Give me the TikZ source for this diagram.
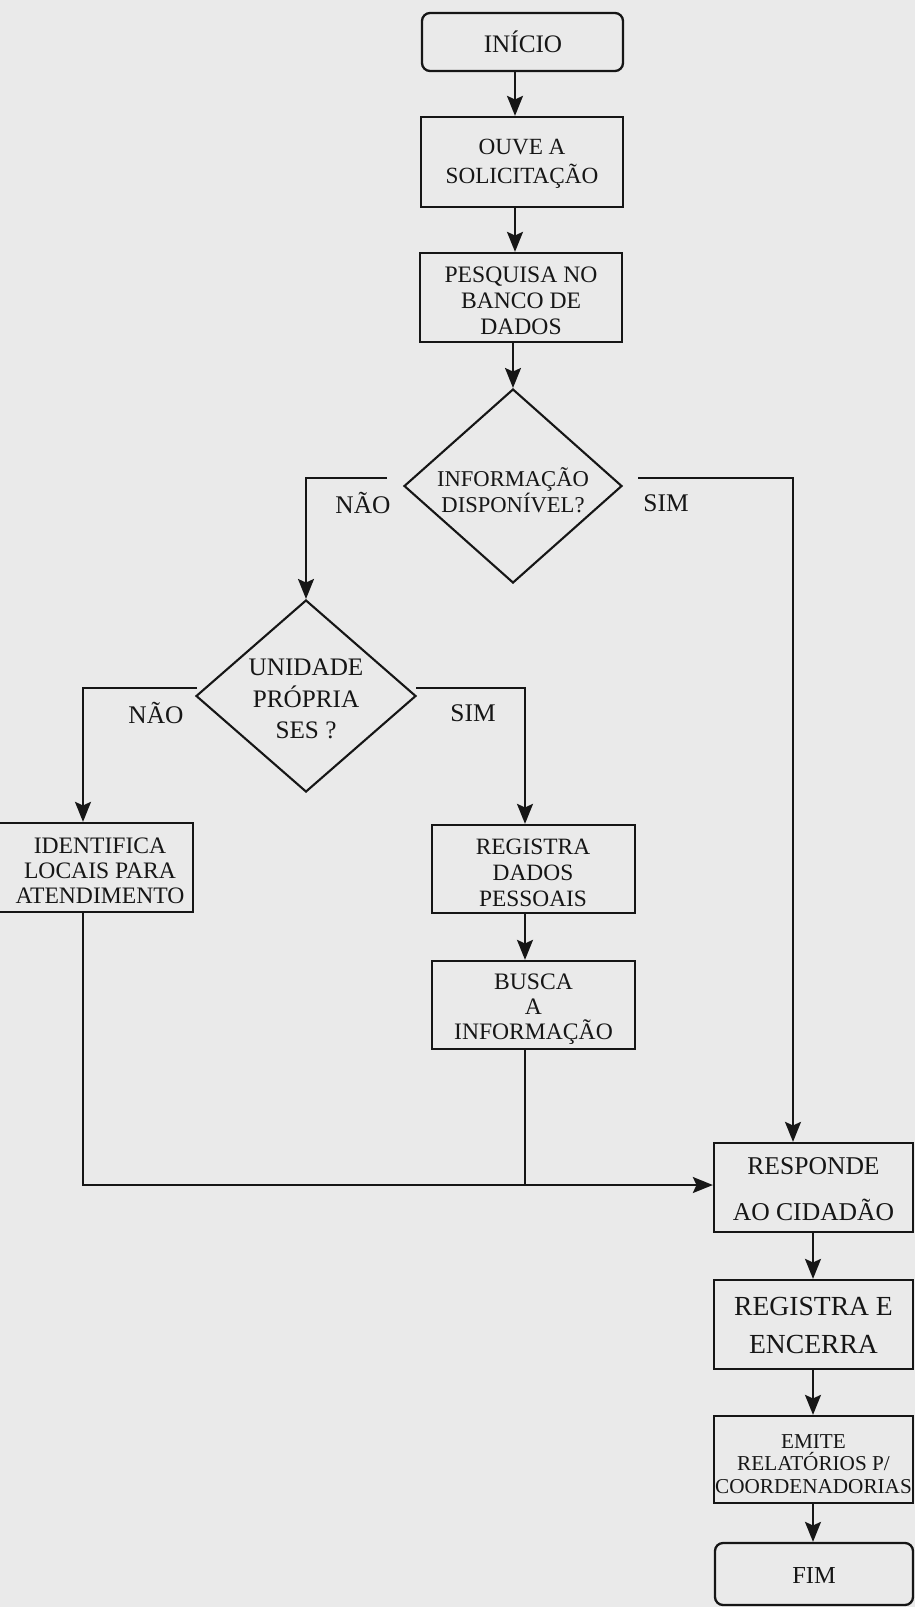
\documentclass[tikz,border=0pt]{standalone}
\usepackage{fontspec}
\setmainfont{Liberation Serif}
\usetikzlibrary{arrows.meta,shapes.geometric}
\definecolor{bg}{RGB}{234,234,234}
\definecolor{ink}{RGB}{22,22,22}
\newcommand\fsz[2]{\fontsize{#1}{#2}\selectfont}
\begin{document}
\begin{tikzpicture}[x=0.5pt,y=-0.5pt,
  box/.style={draw=ink, line width=1.15pt, fill=bg, inner sep=0pt, align=center, text=ink},
  rbox/.style={box, rounded corners=4pt},
  dia/.style={draw=ink, line width=1.05pt, diamond, inner sep=0pt, aspect=1},
  txt/.style={text=ink, align=center, inner sep=0pt},
  arr/.style={draw=ink, line width=0.95pt, -{Stealth[length=10pt,width=8pt,inset=1.8pt]}},
  ln/.style={draw=ink, line width=0.95pt},
]
\fill[bg] (0,0) rectangle (915,1607);
\useasboundingbox (0,0) rectangle (915,1607);

% boxes
\node[rbox, minimum width=100.5pt, minimum height=29pt] (ini) at (522.5,42) {};
\node[box, minimum width=101pt, minimum height=45pt] (ouve) at (522,162) {};
\node[box, minimum width=101pt, minimum height=44.5pt] (pesq) at (521,297.5) {};
\node[dia, minimum width=109pt, minimum height=97pt] (d1) at (513,486) {};
\node[dia, minimum width=110pt, minimum height=96pt] (d2) at (306,696) {};
\node[box, minimum width=97.5pt, minimum height=44.5pt] (ident) at (95.5,867.5) {};
\node[box, minimum width=101.5pt, minimum height=44pt] (regdp) at (533.5,869) {};
\node[box, minimum width=101.5pt, minimum height=44pt] (busca) at (533.5,1005) {};
\node[box, minimum width=99.5pt, minimum height=44.5pt] (resp) at (813.5,1187.5) {};
\node[box, minimum width=99.5pt, minimum height=44.5pt] (rege) at (813.5,1324.5) {};
\node[box, minimum width=99.5pt, minimum height=43.5pt] (emite) at (813.5,1459.5) {};
\node[rbox, minimum width=99pt, minimum height=31pt] (fim) at (814,1574) {};

% texts
\node[txt, font=\fsz{12.6}{14}] (init) at (523,42) {INÍCIO};
\node[txt, font=\fsz{11.6}{14.5}] (ouvet) at (522,164) {OUVE A\\SOLICITAÇÃO};
\node[txt, font=\fsz{11.8}{13}] (pesqt) at (521,301) {PESQUISA NO\\BANCO DE\\DADOS};
\node[txt, font=\fsz{11.3}{13}] (d1t) at (513,490) {INFORMAÇÃO\\DISPONÍVEL?};
\node[txt, font=\fsz{12.7}{14}] (l1) at (363,503) {NÃO};
\node[txt, font=\fsz{12.7}{14}] (l2) at (666,503) {SIM};
\node[txt, font=\fsz{12.6}{15.8}] (d2t) at (306,699) {UNIDADE\\PRÓPRIA\\SES ?};
\node[txt, font=\fsz{12.7}{14}] (l3) at (156,713) {NÃO};
\node[txt, font=\fsz{12.7}{14}] (l4) at (473,713) {SIM};
\node[txt, font=\fsz{11.8}{12.6}] (identt) at (100,871) {IDENTIFICA\\LOCAIS PARA\\ATENDIMENTO};
\node[txt, font=\fsz{11.7}{13.1}] (regdpt) at (533,873) {REGISTRA\\DADOS\\PESSOAIS};
\node[txt, font=\fsz{11.8}{12.6}] (buscat) at (533.5,1009) {BUSCA\\A\\INFORMAÇÃO};
\node[txt, font=\fsz{12.8}{23}] (respt) at (813.5,1189) {RESPONDE\\AO CIDADÃO};
\node[txt, font=\fsz{13.8}{19}] (reget) at (813.5,1325) {REGISTRA E\\ENCERRA};
\node[txt, font=\fsz{10.6}{11.3}] (emitet) at (813.5,1464) {EMITE\\RELATÓRIOS P/\\COORDENADORIAS};
\node[txt, font=\fsz{12.2}{14}] (fimt) at (814,1575) {FIM};

% helper coordinates
\coordinate (cx) at (515,0);
\coordinate (n1) at (387,478);
\coordinate (s1) at (638,478);
\coordinate (sx) at (793,0);
\coordinate (n2) at (197,688);
\coordinate (s2) at (416,688);
\coordinate (ax) at (83,0);
\coordinate (bx) at (525,0);
\coordinate (jn) at (525,1185);
\coordinate (rx) at (813,0);

% connectors
\draw[arr] (ini.south -| cx) -- (ouve.north -| cx);
\draw[arr] (ouve.south -| cx) -- (pesq.north -| cx);
\draw[arr] (pesq.south -| d1.north) -- (d1.north);
\draw[arr] (n1) -| (d2.north);
\draw[arr] (s1) -| (resp.north -| sx);
\draw[arr] (n2) -| (ident.north -| ax);
\draw[arr] (s2) -| (regdp.north -| bx);
\draw[arr] (regdp.south -| bx) -- (busca.north -| bx);
\draw[ln] (busca.south -| bx) -- (jn);
\draw[arr] (ident.south -| ax) |- (resp.west |- jn);
\draw[arr] (resp.south -| rx) -- (rege.north -| rx);
\draw[arr] (rege.south -| rx) -- (emite.north -| rx);
\draw[arr] (emite.south -| rx) -- (fim.north -| rx);
\end{tikzpicture}
\end{document}
